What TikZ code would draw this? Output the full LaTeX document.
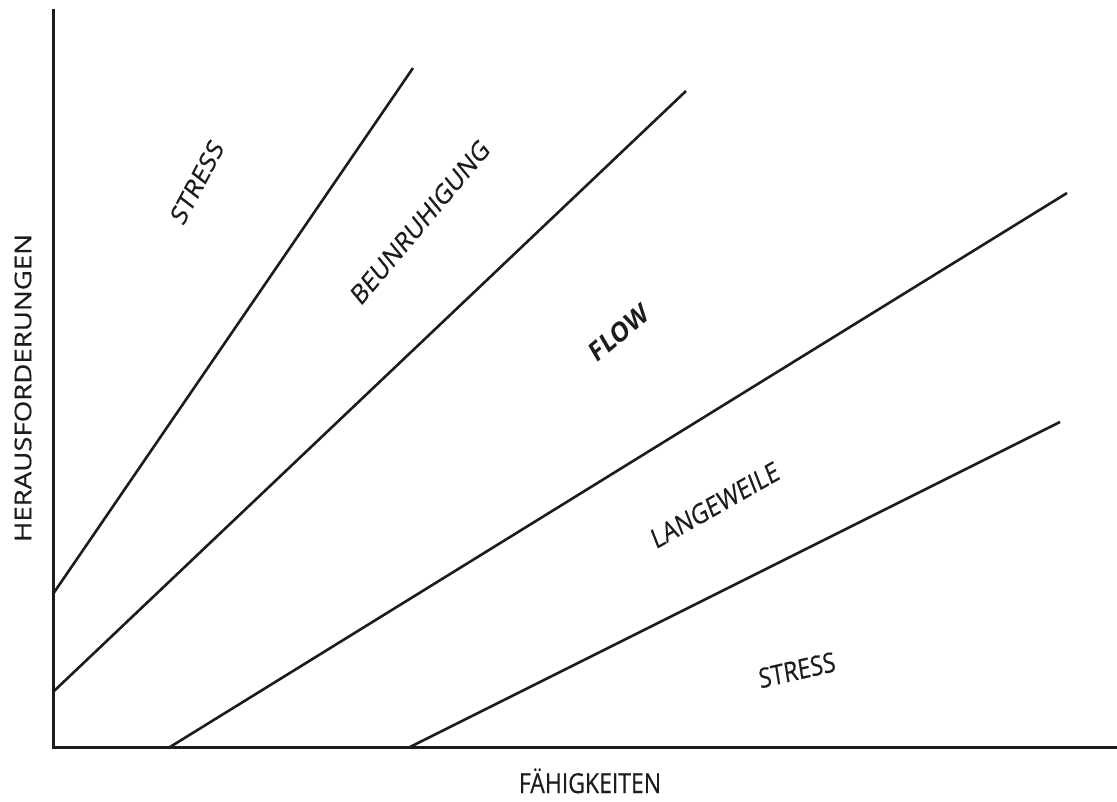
\documentclass[tikz,border=0pt]{standalone}
\usepackage{fontspec}
\setmainfont{Open Sans}
\newfontfamily\lblfont[FakeBold=0.5]{Open Sans}
\definecolor{inkgray}{HTML}{1C1C1C}

\begin{document}
\begin{tikzpicture}[
    x=1pt, y=-1pt,
    axis/.style={line width=3pt, color=inkgray},
    zone/.style={line width=2.6pt, color=inkgray},
    lbl/.style={font=\lblfont\fontsize{23}{26}\selectfont, text=inkgray,
                inner sep=0pt, yscale=1.2},
  ]
    \useasboundingbox (0,0) rectangle (1117,801);

    % axes
    \coordinate (origin) at (53,747);
    \coordinate (ytop)   at (53,9);
    \coordinate (xend)   at (1117,747);
    \draw[axis] (ytop) -- (origin) -- (xend);

    % zone boundaries
    \coordinate (b1s) at (53,594);  \coordinate (b1e) at (413,68);
    \coordinate (b2s) at (53,692);  \coordinate (b2e) at (686,91);
    \coordinate (b3s) at (170,747); \coordinate (b3e) at (1067,193);
    \coordinate (b4s) at (410,747); \coordinate (b4e) at (1060,422);

    \draw[zone] (b1s) -- (b1e);
    \draw[zone] (b2s) -- (b2e);
    \draw[zone] (b3s) -- (b3e);
    \draw[zone] (b4s) -- (b4e);

    % zone labels
    \node[lbl, rotate=57.5] (stressHigh) at (197,182) {STRESS};
    \node[lbl, rotate=44.8] (worry)      at (420,222) {BEUNRUHIGUNG};
    \node[lbl, rotate=35, font=\normalfont\fontsize{23}{26}\selectfont\bfseries]
                            (flow)       at (619,333) {FLOW};
    \node[lbl, rotate=25.3] (boredom)    at (715,505) {LANGEWEILE};
    \node[lbl, rotate=10.9] (stressLow)  at (797,670) {STRESS};

    % axis labels
    \node[lbl, rotate=90]   (challenge)  at (23,388)  {HERAUSFORDERUNGEN};
    \node[lbl, anchor=base] (skill)      at (590,793) {FÄHIGKEITEN};
\end{tikzpicture}
\end{document}
